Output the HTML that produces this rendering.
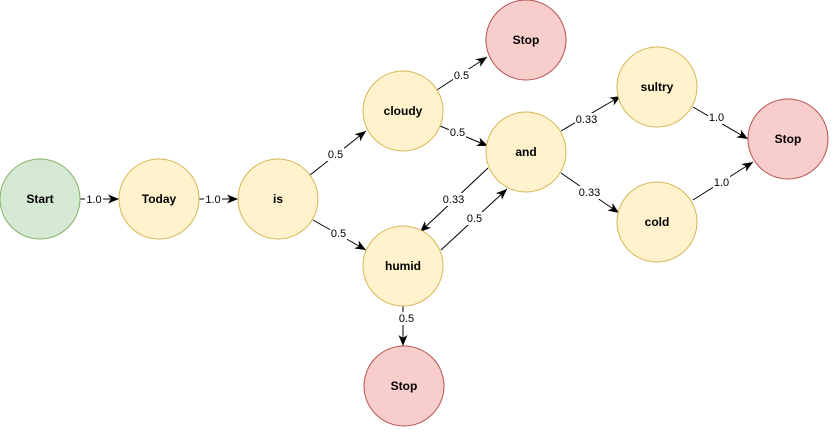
<!DOCTYPE html>
<html><head><meta charset="utf-8"><style>
html,body{margin:0;padding:0;background:#fff;}
svg{display:block;}
.n{font-family:"Liberation Sans",Arial,sans-serif;font-size:12px;font-weight:bold;fill:#000;text-anchor:middle;dominant-baseline:central;}
.l{font-family:"Liberation Sans",Arial,sans-serif;font-size:11px;fill:#000;text-anchor:middle;dominant-baseline:central;}
.e{stroke:#000;stroke-width:1;fill:none;}
</style></head><body>
<svg width="840" height="438" viewBox="0 0 840 438" xmlns="http://www.w3.org/2000/svg">
<defs>
<marker id="a" markerWidth="12" markerHeight="10" refX="11" refY="4.5" orient="auto" markerUnits="userSpaceOnUse">
<path d="M0,0 L11,4.5 L0,9 L3,4.5 Z" fill="#000"/>
</marker>
</defs>
<!-- edges -->
<line class="e" x1="80" y1="199" x2="119" y2="199" marker-end="url(#a)"/>
<line class="e" x1="199" y1="199" x2="238" y2="199" marker-end="url(#a)"/>
<line class="e" x1="310" y1="175" x2="366" y2="131" marker-end="url(#a)"/>
<line class="e" x1="313" y1="220" x2="366" y2="250" marker-end="url(#a)"/>
<line class="e" x1="437" y1="90" x2="487" y2="57" marker-end="url(#a)"/>
<line class="e" x1="440" y1="126" x2="488" y2="146" marker-end="url(#a)"/>
<line class="e" x1="488" y1="168" x2="420" y2="232" marker-end="url(#a)"/>
<line class="e" x1="441" y1="250" x2="507" y2="189" marker-end="url(#a)"/>
<line class="e" x1="403" y1="306" x2="403" y2="346" marker-end="url(#a)"/>
<line class="e" x1="561" y1="131" x2="621" y2="96" marker-end="url(#a)"/>
<line class="e" x1="561" y1="173" x2="619" y2="213" marker-end="url(#a)"/>
<line class="e" x1="693" y1="107" x2="748" y2="139" marker-end="url(#a)"/>
<line class="e" x1="693" y1="200" x2="753" y2="162" marker-end="url(#a)"/>
<!-- edge labels -->
<g>
<rect x="85" y="193" width="18" height="13" fill="#fff"/><text class="l" x="94" y="200">1.0</text>
<rect x="204" y="193" width="18" height="13" fill="#fff"/><text class="l" x="213" y="200">1.0</text>
<rect x="327" y="148" width="17" height="13" fill="#fff"/><text class="l" x="335.5" y="155">0.5</text>
<rect x="330" y="228" width="17" height="13" fill="#fff"/><text class="l" x="338.5" y="234">0.5</text>
<rect x="453" y="69" width="17" height="13" fill="#fff"/><text class="l" x="461.5" y="76">0.5</text>
<rect x="449" y="127" width="17" height="13" fill="#fff"/><text class="l" x="457.5" y="133">0.5</text>
<rect x="442" y="193" width="23" height="13" fill="#fff"/><text class="l" x="453.5" y="200">0.33</text>
<rect x="466" y="212" width="17" height="13" fill="#fff"/><text class="l" x="474.5" y="219">0.5</text>
<rect x="398" y="312" width="17" height="13" fill="#fff"/><text class="l" x="406.5" y="319">0.5</text>
<rect x="575" y="113" width="23" height="13" fill="#fff"/><text class="l" x="586.5" y="120">0.33</text>
<rect x="577" y="186" width="25" height="13" fill="#fff"/><text class="l" x="589.5" y="193">0.33</text>
<rect x="708" y="111" width="17" height="13" fill="#fff"/><text class="l" x="716.5" y="118">1.0</text>
<rect x="713" y="176" width="17" height="13" fill="#fff"/><text class="l" x="721.5" y="183">1.0</text>
</g>
<!-- nodes -->
<circle cx="40" cy="199" r="40" fill="#d5e8d4" stroke="#82b366"/><text class="n" x="40" y="199">Start</text>
<circle cx="159" cy="199" r="40" fill="#fff2cc" stroke="#d6b656"/><text class="n" x="159" y="199">Today</text>
<circle cx="278" cy="199" r="40" fill="#fff2cc" stroke="#d6b656"/><text class="n" x="278" y="199">is</text>
<circle cx="403" cy="111" r="40" fill="#fff2cc" stroke="#d6b656"/><text class="n" x="403" y="111">cloudy</text>
<circle cx="403" cy="266" r="40" fill="#fff2cc" stroke="#d6b656"/><text class="n" x="403" y="266">humid</text>
<circle cx="526" cy="40" r="40" fill="#f8cecc" stroke="#b85450"/><text class="n" x="526" y="40">Stop</text>
<circle cx="526" cy="152" r="40" fill="#fff2cc" stroke="#d6b656"/><text class="n" x="526" y="152">and</text>
<circle cx="404" cy="386" r="40" fill="#f8cecc" stroke="#b85450"/><text class="n" x="404" y="386">Stop</text>
<circle cx="657" cy="87" r="40" fill="#fff2cc" stroke="#d6b656"/><text class="n" x="657" y="87">sultry</text>
<circle cx="657" cy="222" r="40" fill="#fff2cc" stroke="#d6b656"/><text class="n" x="657" y="222">cold</text>
<circle cx="788" cy="139" r="40" fill="#f8cecc" stroke="#b85450"/><text class="n" x="788" y="139">Stop</text>
</svg>
</body></html>
